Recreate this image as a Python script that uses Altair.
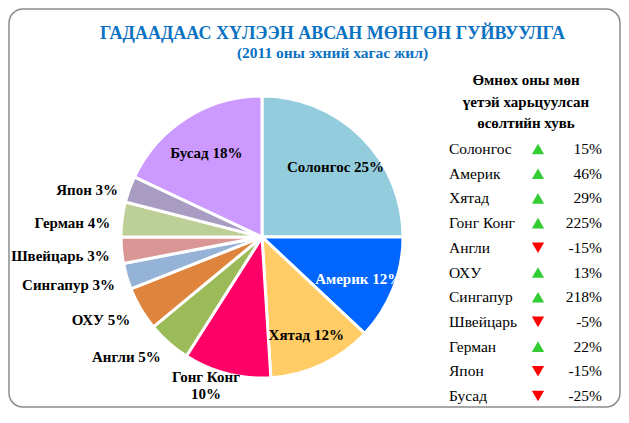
import altair as alt
import pandas as pd

# ---- data ----
NAMES = ["Солонгос", "Америк", "Хятад", "Гонг Конг", "Англи", "ОХУ",
         "Сингапур", "Швейцарь", "Герман", "Япон", "Бусад"]
SHARE = [25, 12, 12, 10, 5, 5, 3, 3, 4, 3, 18]          # % of remittances
GROWTH = [15, 46, 29, 225, -15, 13, 218, -5, 22, -15, -25]  # y/y growth %
COLORS = ["#93CDDD", "#0066FF", "#FFCC66", "#FF0066", "#9BBB59", "#DF843D",
          "#95B3D7", "#D99694", "#BBCF96", "#A89CC2", "#CC99FF"]

TITLE = "ГАДААДААС ХҮЛЭЭН АВСАН МӨНГӨН ГУЙВУУЛГА"
SUBTITLE = "(2011 оны эхний хагас жил)"
HEADER = ["Өмнөх оны мөн", "үетэй харьцуулсан", "өсөлтийн хувь"]

# label placement groups (style)
INSIDE = ["Солонгос", "Америк", "Хятад", "Бусад"]
BELOW = ["Гонг Конг"]

FONT = "Liberation Serif"
BLUE = "#0A72C2"

df = pd.DataFrame({
    "idx": list(range(len(NAMES))),
    "name": NAMES,
    "share": SHARE,
    "growth": GROWTH,
})
df["label"] = [f"{n} {s}%" for n, s in zip(NAMES, SHARE)]
df["label2"] = [f"{n}\n{s}%" for n, s in zip(NAMES, SHARE)]
df["gtxt"] = [f"{g}%" for g in GROWTH]
df["dir"] = ["up" if g > 0 else "down" for g in GROWTH]

CX, CY, R = 253, 228, 141

base = alt.Chart(df)
theta = alt.Theta("share:Q", stack=True)
order = alt.Order("idx:Q", sort="ascending")

pie = base.mark_arc(outerRadius=R, stroke="white", strokeWidth=3).encode(
    theta=theta,
    order=order,
    color=alt.Color("name:N", scale=alt.Scale(domain=NAMES, range=COLORS), legend=None),
    x=alt.value(CX), y=alt.value(CY),
)

in_list = "[" + ",".join(f"'{n}'" for n in INSIDE) + "]"
below_list = "[" + ",".join(f"'{n}'" for n in BELOW) + "]"

inside = base.mark_text(font=FONT, fontSize=15, fontWeight="bold",
                        align="center", baseline="middle", dy=4).encode(
    theta=theta, order=order, radius=alt.value(104),
    x=alt.value(CX), y=alt.value(CY),
    text=alt.condition(f"indexof({in_list}, datum.name) >= 0", "label:N", alt.value("")),
    color=alt.condition("datum.name == 'Америк'", alt.value("white"), alt.value("black")),
)

outside = base.mark_text(font=FONT, fontSize=15, fontWeight="bold",
                         align="right", baseline="middle", color="black", dy=5).encode(
    theta=theta, order=order, radius=alt.value(153),
    x=alt.value(CX), y=alt.value(CY),
    text=alt.condition(
        f"indexof({in_list}, datum.name) < 0 && indexof({below_list}, datum.name) < 0",
        "label:N", alt.value("")),
)

below = base.mark_text(font=FONT, fontSize=15, fontWeight="bold", lineBreak="\n",
                       lineHeight=17, align="center", baseline="top", color="black",
                       dx=-22).encode(
    theta=theta, order=order, radius=alt.value(137),
    x=alt.value(CX), y=alt.value(CY),
    text=alt.condition(f"indexof({below_list}, datum.name) >= 0", "label2:N", alt.value("")),
)

yrow = alt.Y("idx:Q", scale=alt.Scale(domain=[0, len(NAMES) - 1], range=[140, 387]), axis=None)

names_t = base.mark_text(font=FONT, fontSize=15.5, align="left", baseline="middle",
                         color="black").encode(y=yrow, x=alt.value(440), text="name:N")
vals_t = base.mark_text(font=FONT, fontSize=15.5, align="right", baseline="middle",
                        color="black").encode(y=yrow, x=alt.value(593), text="gtxt:N")
arrows = base.mark_point(filled=True, opacity=1, size=150).encode(
    y=yrow, x=alt.value(529),
    shape=alt.Shape("dir:N", scale=alt.Scale(domain=["up", "down"],
                                             range=["triangle-up", "triangle-down"]), legend=None),
    color=alt.Color("dir:N", scale=alt.Scale(domain=["up", "down"],
                                             range=["#33CC33", "#FF0000"]), legend=None),
)

header = alt.Chart(pd.DataFrame({"h": ["\n".join(HEADER)]})).mark_text(
    font=FONT, fontSize=15, fontWeight="bold", lineBreak="\n", lineHeight=21.5,
    align="center", baseline="top", color="black"
).encode(text="h:N", x=alt.value(517), y=alt.value(64))

chart = alt.layer(pie, inside, outside, below, names_t, vals_t, arrows, header).resolve_scale(
    color="independent"
).properties(
    width=611, height=398,
    padding={"left": 1, "top": 1, "right": 1, "bottom": 1},
    autosize=alt.AutoSizeParams(type="none"),
    title=alt.Title(
        text=TITLE, subtitle=SUBTITLE, font=FONT, fontSize=18, fontWeight="bold",
        color=BLUE, subtitleFont=FONT, subtitleFontSize=15.5,
        subtitleFontWeight="bold", subtitleColor=BLUE, anchor="middle",
        dx=18, offset=-52, subtitlePadding=3, frame="group",
    ),
).configure_view(
    stroke="#8C8C8C", strokeWidth=1.5, cornerRadius=14
)

chart.save("out.html", embed_options={"renderer": "svg", "actions": False})
